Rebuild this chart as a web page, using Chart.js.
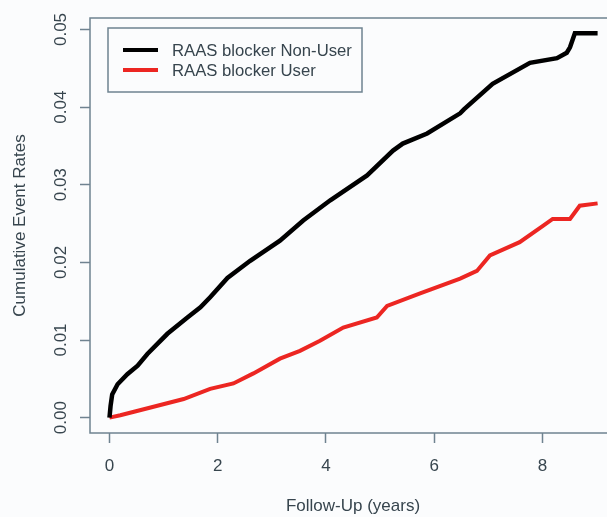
<!DOCTYPE html>
<html lang="en">
<head>
  <meta charset="UTF-8">
  <title>Cumulative Event Rates</title>
  <style>
    body {
      margin: 0;
      padding: 0;
      background: #fbfcfd;
    }
    #wrap {
      width: 607px;
      height: 517px;
      overflow: hidden;
    }
    /* a bit wider than the window so the right frame edge falls off, like the source crop */
    #inner {
      width: 625px;
      height: 517px;
      position: relative;
    }
  </style>
</head>
<body>
  <div id="wrap">
    <div id="inner">
      <canvas id="kmChart"></canvas>
    </div>
  </div>

  <script src="https://cdn.jsdelivr.net/npm/chart.js@4.4.1/dist/chart.umd.min.js"></script>
  <script>
    const seriesLabels = ['RAAS blocker Non-User', 'RAAS blocker User'];

    const nonUserYears = [0, 0.02, 0.05, 0.15, 0.33, 0.52, 0.7, 1.07, 1.44, 1.68, 1.86, 2.18, 2.6, 2.79, 3.15, 3.58, 4.08, 4.76, 5.24, 5.42, 5.87, 6.48, 6.55, 7.08, 7.77, 8.27, 8.45, 8.51, 8.6, 9.02];
    const nonUserRates = [0, 0.0015, 0.0030, 0.0043, 0.0056, 0.0067, 0.0082, 0.0108, 0.0129, 0.0142, 0.0155, 0.0180, 0.0202, 0.0211, 0.0228, 0.0254, 0.0280, 0.0312, 0.0344, 0.0353, 0.0366, 0.0392, 0.0397, 0.0430, 0.0457, 0.0463, 0.0470, 0.0477, 0.0495, 0.0495];

    const userYears = [0, 0.2, 0.76, 1.37, 1.86, 2.29, 2.66, 3.15, 3.52, 3.89, 4.32, 4.94, 5.13, 5.74, 6.48, 6.79, 7.03, 7.58, 8.01, 8.19, 8.51, 8.69, 9.02];
    const userRates = [0, 0.0003, 0.0013, 0.0024, 0.0037, 0.0044, 0.0057, 0.0076, 0.0086, 0.0099, 0.0116, 0.0129, 0.0144, 0.0160, 0.0179, 0.0189, 0.0209, 0.0226, 0.0247, 0.0256, 0.0256, 0.0273, 0.0276];

    const xTicks = [0, 2, 4, 6, 8];
    const yTicks = [0, 0.01, 0.02, 0.03, 0.04, 0.05];
    const yTickLabels = ['0.00', '0.01', '0.02', '0.03', '0.04', '0.05'];

    const axisColor = '#6f8390';
    const textColor = '#37454e';
    const fontFamily = "'Liberation Sans', Arial, sans-serif";

    const toPoints = (xs, ys) => xs.map((x, i) => ({ x, y: ys[i] }));

    // frame, rotated y tick labels and the legend box
    const decorations = {
      id: 'decorations',
      afterDatasetsDraw(chart) {
        const { ctx, chartArea: a, scales } = chart;
        ctx.save();
        ctx.strokeStyle = axisColor;
        ctx.lineWidth = 1.5;
        ctx.strokeRect(a.left, a.top, a.right - a.left, a.bottom - a.top);

        ctx.fillStyle = textColor;
        ctx.font = '17px ' + fontFamily;
        ctx.textAlign = 'center';
        ctx.textBaseline = 'middle';
        yTicks.forEach((v, i) => {
          const py = scales.y.getPixelForValue(v);
          ctx.save();
          ctx.translate(61, py);
          ctx.rotate(-Math.PI / 2);
          ctx.fillText(yTickLabels[i], 0, 0);
          ctx.restore();
        });

        // legend
        const lx = a.left + 18, ly = a.top + 10;
        ctx.strokeRect(lx, ly, 254, 64);
        ctx.textAlign = 'left';
        ctx.font = '16.7px ' + fontFamily;
        chart.data.datasets.forEach((ds, i) => {
          const yy = ly + 22 + i * 20;
          ctx.strokeStyle = ds.borderColor;
          ctx.lineWidth = 4;
          ctx.beginPath();
          ctx.moveTo(lx + 15, yy);
          ctx.lineTo(lx + 50, yy);
          ctx.stroke();
          ctx.fillStyle = textColor;
          ctx.fillText(ds.label, lx + 64, yy + 1);
        });
        ctx.restore();
      }
    };

    new Chart(document.getElementById('kmChart'), {
      type: 'line',
      data: {
        datasets: [
          {
            label: seriesLabels[0],
            data: toPoints(nonUserYears, nonUserRates),
            borderColor: '#000000',
            borderWidth: 4.5,
            pointRadius: 0,
            tension: 0
          },
          {
            label: seriesLabels[1],
            data: toPoints(userYears, userRates),
            borderColor: '#ec2622',
            borderWidth: 4,
            pointRadius: 0,
            tension: 0
          }
        ]
      },
      options: {
        responsive: true,
        maintainAspectRatio: false,
        animation: false,
        layout: { padding: { top: 18, right: 9, left: 0, bottom: 0 } },
        plugins: {
          legend: { display: false },
          tooltip: { enabled: false }
        },
        scales: {
          x: {
            type: 'linear',
            min: -0.36,
            max: 9.36,
            afterBuildTicks: s => { s.ticks = xTicks.map(v => ({ value: v })); },
            afterFit: s => { s.height = 84; },
            border: { display: false },
            grid: {
              drawOnChartArea: false,
              drawTicks: true,
              tickLength: 10,
              tickColor: axisColor,
              tickWidth: 1.5
            },
            ticks: {
              color: textColor,
              padding: 13,
              font: { size: 17, family: fontFamily },
              callback: v => String(v)
            },
            title: {
              display: true,
              text: 'Follow-Up (years)',
              color: textColor,
              font: { size: 17, family: fontFamily },
              padding: { top: 0, bottom: 0 }
            }
          },
          y: {
            type: 'linear',
            min: -0.00198,
            max: 0.05148,
            afterBuildTicks: s => { s.ticks = yTicks.map(v => ({ value: v })); },
            afterFit: s => { s.width = 90; },
            border: { display: false },
            grid: {
              drawOnChartArea: false,
              drawTicks: true,
              tickLength: 10,
              tickColor: axisColor,
              tickWidth: 1.5
            },
            ticks: { display: false },
            title: {
              display: true,
              text: 'Cumulative Event Rates',
              color: textColor,
              font: { size: 17, family: fontFamily },
              padding: { top: 10, bottom: 0 }
            }
          }
        }
      },
      plugins: [decorations]
    });
  </script>
</body>
</html>
